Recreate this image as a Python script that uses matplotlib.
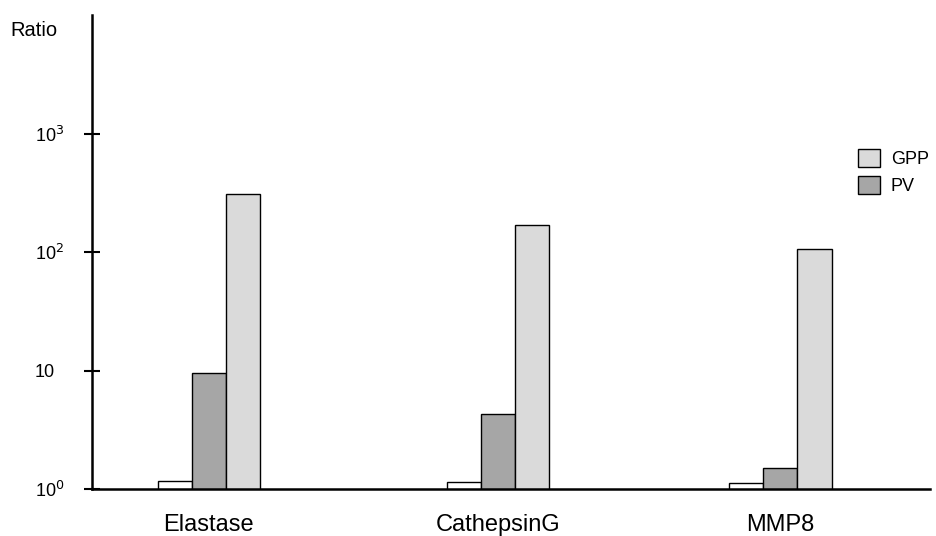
import numpy as np
import matplotlib
matplotlib.use("Agg")
import matplotlib.pyplot as plt
from matplotlib.patches import Patch

plt.rcParams['font.family'] = ['Liberation Sans', 'DejaVu Sans']

# data
enzymes = ['Elastase', 'CathepsinG', 'MMP8']
control = [1.17, 1.15, 1.12]
pv = [9.5, 4.3, 1.5]
gpp = [310, 170, 107]
ytick_vals = [1, 10, 100, 1000]
ytick_labels = ['10$^0$', '10', '10$^2$', '10$^3$']

fig = plt.figure(figsize=(9.37, 5.36), dpi=100)
ax = fig.add_axes([92 / 937, 47 / 536, (930 - 92) / 937, (489 - 15) / 536])

x = np.array([0, 1.015, 2.005])
w = 0.12
ax.bar(x - w, control, w, color='white', edgecolor='black', linewidth=1)
ax.bar(x, pv, w, color='#a6a6a6', edgecolor='black', linewidth=1, label='PV')
ax.bar(x + w, gpp, w, color='#dadada', edgecolor='black', linewidth=1, label='GPP')

ax.set_yscale('log')
ax.set_ylim(1, 1e4)
ax.set_xlim(-0.41, 2.53)
ax.set_yticks(ytick_vals)
ax.set_yticklabels(ytick_labels, fontsize=13, ha='left')
ax.yaxis.set_minor_locator(matplotlib.ticker.NullLocator())
ax.tick_params(axis='y', direction='inout', length=12, width=1.5, pad=35)
ax.set_xticks(x)
ax.set_xticklabels(enzymes, fontsize=17)
ax.tick_params(axis='x', length=0, pad=18)

for s in ['top', 'right']:
    ax.spines[s].set_visible(False)
ax.spines['left'].set_linewidth(1.8)
ax.spines['bottom'].set_linewidth(1.8)

fig.text(10 / 937, 1 - 30 / 536, 'Ratio', fontsize=14.5, va='center', ha='left')

handles = [Patch(facecolor='#dadada', edgecolor='black', label='GPP'),
           Patch(facecolor='#a6a6a6', edgecolor='black', label='PV')]
fig.legend(handles=handles, loc='upper left', bbox_to_anchor=(842 / 937, 1 - 133 / 536),
           frameon=False, fontsize=13, handlelength=1.2, handleheight=1.1,
           handletextpad=0.6, labelspacing=0.45)

fig.savefig('out.png', dpi=100)
